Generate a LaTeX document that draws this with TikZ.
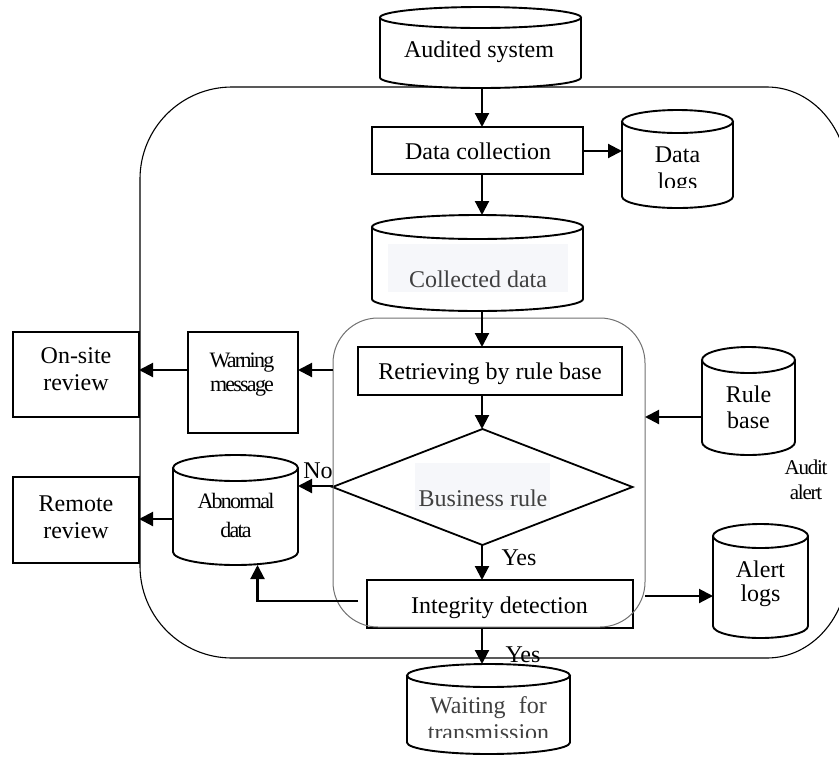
\documentclass[tikz,border=0pt]{standalone}
\usepackage{fontspec}
\setmainfont{Liberation Serif}
\newfontfamily\condfont[LetterSpace=-8]{Liberation Serif}
\newfontfamily\condfontb[LetterSpace=-6]{Liberation Serif}
\usetikzlibrary{arrows.meta,shapes.geometric,calc}
\definecolor{gtext}{HTML}{404040}
\definecolor{bgt}{HTML}{F6F7FA}
\definecolor{innerc}{HTML}{707070}

\newcommand\mkcyl[6]{%
  \pgfmathsetmacro\cyCx{(#2+#3)/2}%
  \pgfmathsetmacro\cyRx{(#3-#2)/2}%
  \pgfmathsetmacro\cyYa{#4+#6}%
  \pgfmathsetmacro\cyYb{#5-#6}%
  \pgfmathsetmacro\cyYm{(#4+#5)/2}%
  \pgfmathsetmacro\cyW{#3-#2}%
  \pgfmathsetmacro\cyH{#5-#4}%
  \fill[white] (#2,\cyYa) -- (#2,\cyYb) arc[start angle=180,end angle=360,x radius=\cyRx pt,y radius=#6 pt] -- (#3,\cyYa) arc[start angle=0,end angle=180,x radius=\cyRx pt,y radius=#6 pt] -- cycle;
  \draw[cylline] (#2,\cyYa) -- (#2,\cyYb) arc[start angle=180,end angle=360,x radius=\cyRx pt,y radius=#6 pt] -- (#3,\cyYa);
  \draw[cylline] (\cyCx,\cyYa) ellipse[x radius=\cyRx pt,y radius=#6 pt];
  \node[inner sep=0pt,outer sep=0pt,minimum width=\cyW pt,minimum height=\cyH pt] (#1) at (\cyCx,\cyYm) {};
}

\begin{document}
\begin{tikzpicture}[x=1pt,y=-1pt,
  box/.style={draw,line width=1.9pt,inner sep=0pt,outer sep=0pt},
  cylline/.style={line width=1.9pt},
  arr/.style={line width=2.1pt,-{Triangle[length=14pt,width=14pt]}},
  txt/.style={font=\fontsize{24}{27}\selectfont,inner sep=0pt,anchor=base},
  ctxt/.style={font=\fontsize{22}{26}\selectfont\condfont,inner sep=0pt,anchor=base},
  gtxt/.style={txt,text=gtext},
  outerline/.style={line width=1.1pt},
  innerline/.style={draw=innerc,line width=1pt}]
\useasboundingbox (0,0) rectangle (839,756);
\clip (0,0) rectangle (839,756);

% outer rounded frame
\draw[outerline] (232,87) -- (767,87)
  arc[start angle=90,end angle=0,x radius=81pt,y radius=92pt] -- (848,566)
  arc[start angle=0,end angle=-90,x radius=81pt,y radius=92pt] -- (232,658)
  arc[start angle=270,end angle=180,radius=92pt] -- (140,179)
  arc[start angle=180,end angle=90,radius=92pt] -- cycle;

% cylinders
\mkcyl{aud}{380}{581}{7}{88}{10.5}
\mkcyl{dlogs}{622}{733}{110}{208}{11.5}
\mkcyl{coll}{372}{583}{215}{311}{12}
\mkcyl{rule}{702}{795}{347}{455}{13}
\mkcyl{abn}{173}{298}{455}{565}{13}
\mkcyl{alert}{713}{808}{524}{638}{12}
\mkcyl{wait}{407}{570}{664}{754}{11.5}

% boxes
\node[box,minimum width=211pt,minimum height=47pt] (dc) at (477.5,150.5) {};
\node[box,minimum width=264pt,minimum height=48pt] (retr) at (490,371) {};
\node[box,minimum width=110pt,minimum height=101pt] (warn) at (243,382.5) {};
\node[box,minimum width=126pt,minimum height=85pt] (onsite) at (76,374.5) {};
\node[box,minimum width=126pt,minimum height=86pt] (remote) at (76,520) {};
\node[box,minimum width=266pt,minimum height=48pt] (integ) at (500,604) {};
\node[draw,diamond,line width=1.8pt,inner sep=0pt,outer sep=0pt,minimum width=300pt,minimum height=116pt] (dia) at (482.5,487) {};

% inner rounded frame
\node[innerline,rounded corners=45pt,inner sep=0pt,outer sep=0pt,minimum width=312pt,minimum height=309pt] (inner) at (489,472.5) {};

% text backgrounds
\fill[bgt] (388,244) rectangle (568,292);
\fill[bgt] (415,463) rectangle (550,510);

% texts
\node[txt] (taud) at (479,57) {Audited system};
\node[txt] (tdc) at (478,159) {Data collection};
\node[txt] (tdl1) at (677.5,162) {Data};
\begin{scope}
  \clip (600,100) rectangle (760,187);
  \node[txt] (tdl2) at (677.5,189) {logs};
\end{scope}
\node[gtxt] (tcoll) at (478,287) {Collected data};
\node[txt] (tretr) at (490,379) {Retrieving by rule base};
\node[txt] (tos1) at (76,363) {On-site};
\node[txt] (tos2) at (76,390) {review};
\node[ctxt] (tw1) at (242,367) {Warning};
\node[ctxt] (tw2) at (242,391) {message};
\node[txt] (trb1) at (748.5,402) {Rule};
\node[txt] (trb2) at (748.5,428) {base};
\node[font=\fontsize{21}{25}\selectfont\condfontb,inner sep=0pt,anchor=base] (taa1) at (806,474) {Audit};
\node[font=\fontsize{21}{25}\selectfont\condfontb,inner sep=0pt,anchor=base] (taa2) at (806,499) {alert};
\node[txt] (tno) at (318,478) {No};
\node[gtxt] (tbr) at (483,506) {Business rule};
\node[ctxt] (tab1) at (236,508) {Abnormal};
\node[ctxt] (tab2) at (236,537) {data};
\node[txt] (trr1) at (76,511) {Remote};
\node[txt] (trr2) at (76,538) {review};
\node[txt] (tint) at (499.5,613) {Integrity detection};
\node[txt] (tal1) at (760.5,577) {Alert};
\node[txt] (tal2) at (760.5,601) {logs};
\node[txt] (tyes1) at (519,565) {Yes};
\node[txt] (tyes2) at (523,662) {Yes};
\node[gtxt] (twt1) at (488.5,713) {Waiting\hspace{0.55em}for};
\begin{scope}
  \clip (400,650) rectangle (580,737);
  \node[gtxt] (twt2) at (488.5,740) {transmission};
\end{scope}

% helper coordinates
\coordinate (col) at (482,0);
\coordinate (wy) at (0,370);
\coordinate (ry) at (0,417);
\coordinate (ay) at (0,519);
\coordinate (ny) at (0,486);
\coordinate (ib) at (358,601);
\coordinate (ia) at (645,596);
\coordinate (dly) at (0,151);

% connectors
\draw[arr] (aud.south -| col) -- (dc.north -| col);
\draw[arr] (dc.east |- dly) -- (dlogs.west |- dly);
\draw[arr] (dc.south -| col) -- (coll.north -| col);
\draw[arr] (coll.south -| col) -- (retr.north -| col);
\draw[arr] (retr.south -| col) -- (dia.north -| col);
\draw[arr] (inner.west |- wy) -- (warn.east |- wy);
\draw[arr] (warn.west |- wy) -- (onsite.east |- wy);
\draw[arr] (rule.west |- ry) -- (inner.east |- ry);
\draw[arr] (dia.west |- ny) -- (abn.east |- ny);
\draw[arr] (abn.west |- ay) -- (remote.east |- ay);
\draw[arr] (dia.south -| col) -- (integ.north -| col);
\draw[arr] (ib) -| ($(abn.south)+(22,0)$);
\draw[arr] (ia) -- (ia -| alert.west);
\draw[arr] (integ.south -| col) -- (wait.north -| col);
\end{tikzpicture}
\end{document}
